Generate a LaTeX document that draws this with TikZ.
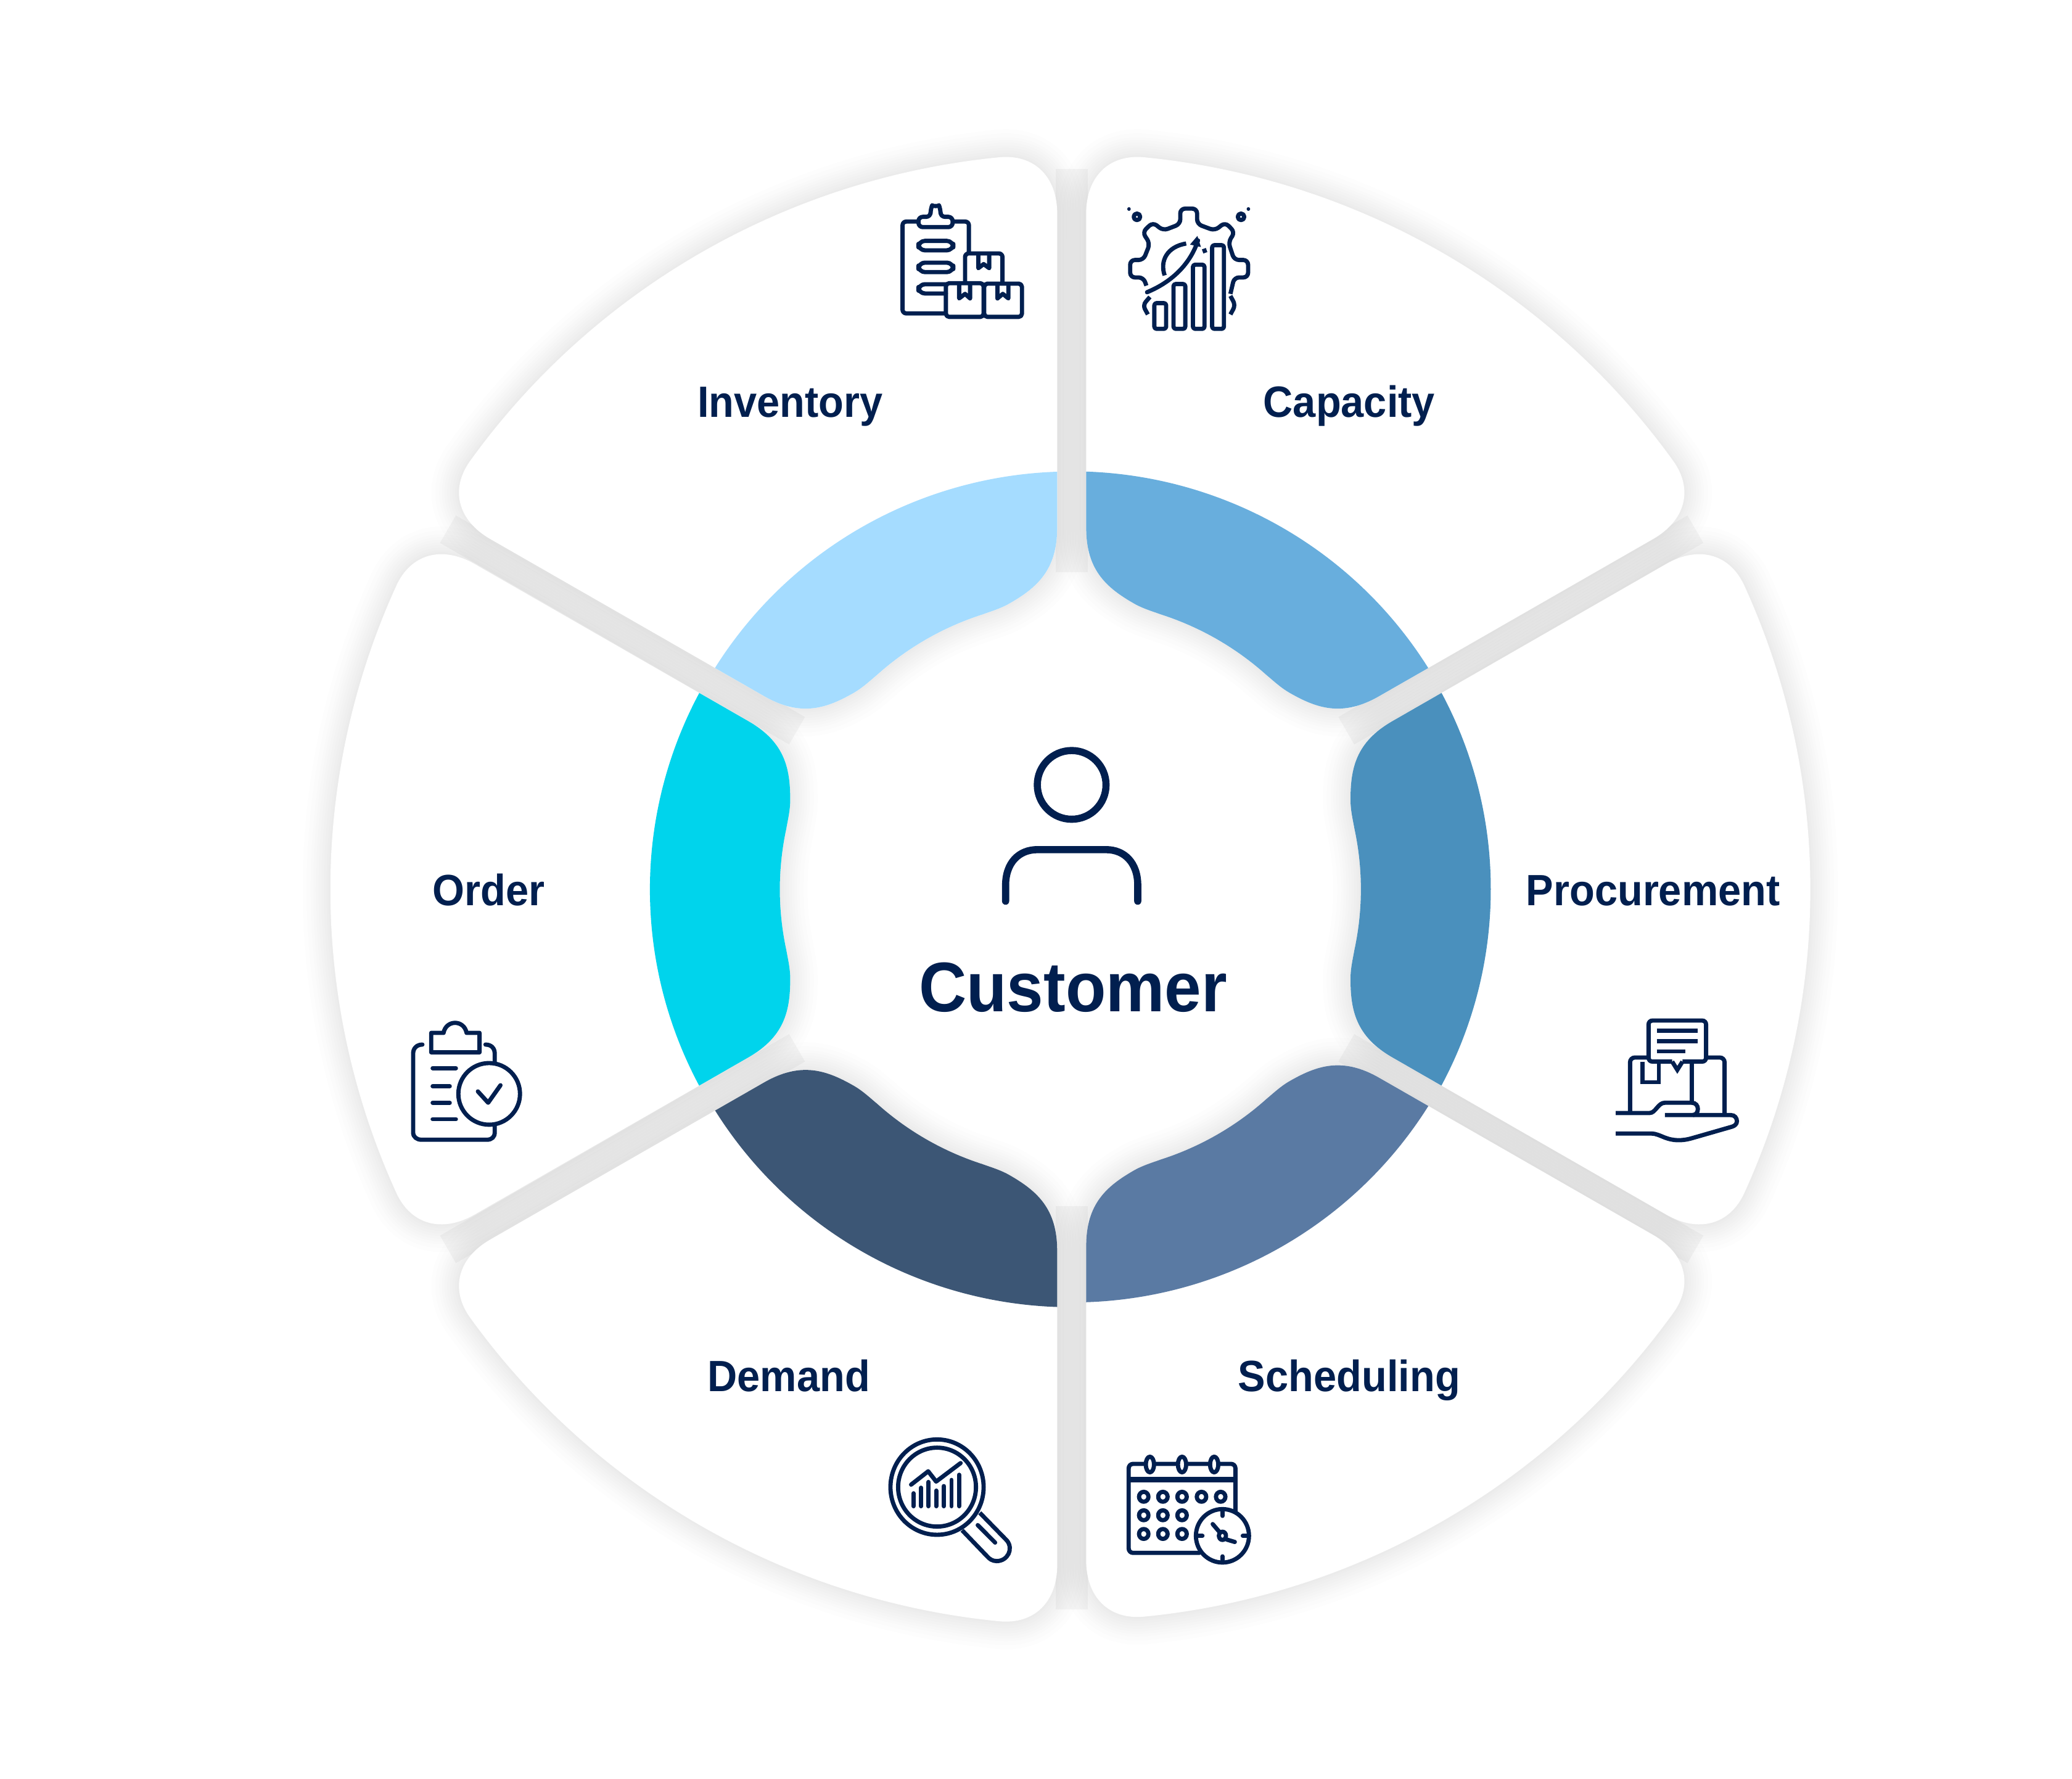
\documentclass[tikz,border=0pt]{standalone}
\usepackage{fontspec}
\setmainfont{Liberation Sans}[FakeStretch=0.94]
\definecolor{navy}{HTML}{011F4F}
\definecolor{cOrder}{HTML}{00D4EC}
\definecolor{cInv}{HTML}{A5DCFF}
\definecolor{cCap}{HTML}{68AEDD}
\definecolor{cProc}{HTML}{4A90BD}
\definecolor{cSched}{HTML}{5A7AA3}
\definecolor{cDem}{HTML}{3C5675}
\definecolor{gapgrey}{HTML}{F6F6F6}
\newcommand\fullsector{(-243.65,127.97) -- (-450.6,247.5) .. controls (-475.4,262) and (-499,255.3) .. (155.6:560)
 arc[start angle=155.6,end angle=204.4,radius=560]
 .. controls (-499,-255.3) and (-475.4,-262) .. (-450.6,-247.5) -- (-243.65,-127.97)
 .. controls (-216,-112) and (-212,-92) .. (-212,-68) .. controls (-212,-60) and (-214,-52) .. (-215,-46)
 arc[start angle=192.08,end angle=167.92,radius=220]
 .. controls (-214,52) and (-212,60) .. (-212,68) .. controls (-212,92) and (-216,112) .. (-243.65,127.97) -- cycle}
\newcommand\ringsector{(-280.9,149.5) -- (-243.65,127.97)
 .. controls (-216,112) and (-212,92) .. (-212,68) .. controls (-212,60) and (-214,52) .. (-215,46)
 arc[start angle=167.92,end angle=192.08,radius=220]
 .. controls (-214,-52) and (-212,-60) .. (-212,-68) .. controls (-212,-92) and (-216,-112) .. (-243.65,-127.97)
 -- (-280.9,-149.5) arc[start angle=208.02,end angle=151.98,radius=318] -- cycle}
\tikzset{
 sectorframe/.style n args={3}{shift={(#2,#3)},yscale=0.994,rotate=#1},
 zoomframe/.style n args={4}{shift={({#1/2.142857-811},{673-#2/2.142857})},x=0.01cm/#3,y=-0.01cm/#4},
 ico/.style={draw=navy,line width=1.95pt,line cap=round,line join=round},
 icobar/.style={draw=navy,line width=1.95pt,line cap=butt,line join=miter},
 lab/.style={text=navy,font=\bfseries\fontsize{20.2}{24}\selectfont,inner sep=0pt,anchor=base},
 gapband/.style={draw=gapgrey,line width=14.6pt,line cap=butt},
}
\newcommand\sectorshadow[3]{\begin{scope}[sectorframe={#1}{#2}{#3}]
 \foreach \w in {3,6,10,14,18,22,26,30,36,42}{\draw[black,opacity=0.007,line width=\w*0.6087pt,line join=round] \fullsector;}
 \end{scope}}
\newcommand\sectorbody[4]{\begin{scope}[sectorframe={#1}{#2}{#3}]
 \fill[white] \fullsector;
 \fill[#4] \ringsector;
 \end{scope}}
\begin{document}
\begin{tikzpicture}[x=0.0214286cm,y=0.0214286cm]
\useasboundingbox (-811,-672.87) rectangle (757,673);
\fill[white] (-811,-672.87) rectangle (757,673);
% pale band behind the gaps
\foreach \a in {30,90,150,210,270,330}{\draw[gapband] (\a:240) -- (\a:545);}
\sectorshadow{0}{-1}{0}
\sectorshadow{-60}{0}{0}
\sectorshadow{-120}{0}{0}
\sectorshadow{180}{-1}{0}
\sectorshadow{120}{0}{3.5}
\sectorshadow{60}{0}{0}
\sectorbody{0}{-1}{0}{cOrder}
\sectorbody{-60}{0}{0}{cInv}
\sectorbody{-120}{0}{0}{cCap}
\sectorbody{180}{-1}{0}{cProc}
\sectorbody{120}{0}{3.5}{cSched}
\sectorbody{60}{0}{0}{cDem}

% centre
\draw[navy,line width=3.3pt] (0,79) circle[radius=26];
\draw[navy,line width=3.3pt,line cap=round] (-50,-9) -- (-50,3) .. controls (-50,20) and (-40,30) .. (-26,30) -- (26,30) .. controls (40,30) and (50,20) .. (50,3) -- (50,-9);
\node[lab,font=\bfseries\fontsize{32.4}{38}\selectfont] (customer) at (1,-92.6) {Customer};
\node[lab] (inventory) at (-213,357.5) {Inventory};
\node[lab] (capacity) at (210,357.5) {Capacity};
\node[lab] (procurement) at (440,-12.2) {Procurement};
\node[lab] (scheduling) at (210,-380) {Scheduling};
\node[lab] (demand) at (-214,-380) {Demand};
\node[lab] (order) at (-441,-12.2) {Order};

% Inventory + Capacity icons
\begin{scope}[zoomframe={1400}{300}{2.0907}{3}]
 \draw[ico,rounded corners=1.7pt] (185,178) -- (133,178) -- (133,625) -- (280,625);
 \draw[ico,rounded corners=1.7pt] (305,178) -- (358,178) -- (358,330);
 \draw[ico,rounded corners=2pt] (228,155) -- (228,118) .. controls (232,104) and (258,104) .. (262,118) -- (262,155) -- (303,155) -- (303,205) -- (187,205) -- (187,155) -- cycle;
 \draw[ico,rounded corners=3pt] (187,272) rectangle (305,318);
 \draw[ico,rounded corners=3pt] (187,378) rectangle (305,424);
 \draw[ico,rounded corners=3pt] (280,483) -- (187,483) -- (187,528) -- (280,528);
 \draw[ico,rounded corners=1.7pt] (345,472) -- (345,333) -- (472,333) -- (472,472);
 \draw[ico] (390,338) -- (390,405) -- (408,385) -- (427,405) -- (427,338);
 \draw[ico,rounded corners=1.5pt] (280,478) rectangle (408,642);
 \draw[ico,rounded corners=1.5pt] (410,480) rectangle (538,642);
 \draw[ico] (325,485) -- (325,552) -- (345,530) -- (362,552) -- (362,485);
 \draw[ico] (455,485) -- (455,552) -- (473,530) -- (492,552) -- (492,485);
 % capacity
 \fill[navy] (901,117) circle[x radius=6,y radius=9];
 \fill[navy] (1306,117) circle[x radius=6,y radius=9];
 \draw[ico] (928,155) circle[x radius=11,y radius=16];
 \draw[ico] (1281,155) circle[x radius=11,y radius=16];
 \draw[ico,rounded corners=2.2pt,line cap=butt] (960,490) -- (950,450) -- (905,450) -- (905,365) -- (950,365) -- (972,285) -- (947,230) -- (982,182) -- (1017,222) -- (1075,190) -- (1075,115) -- (1132,115) -- (1132,190) -- (1192,222) -- (1227,182) -- (1260,230) -- (1238,278) -- (1258,365) -- (1305,365) -- (1305,450) -- (1258,450) -- (1245,530);
 \draw[ico,rounded corners=2pt,line cap=butt] (1245,540) -- (1262,585) -- (1245,630);
 \draw[ico,rounded corners=2pt,line cap=butt] (972,545) -- (948,585) -- (965,630);
 \draw[ico,rounded corners=1pt] (987,575) rectangle (1027,700);
 \draw[ico,rounded corners=1pt] (1052,482) rectangle (1092,700);
 \draw[ico,rounded corners=1pt] (1118,388) rectangle (1157,700);
 \draw[ico,rounded corners=1pt] (1183,293) rectangle (1223,700);
 \draw[ico] (962,522) .. controls (1050,470) and (1110,380) .. (1135,270);
 \fill[navy] (1133,248) -- (1108,290) -- (1145,302) -- cycle;
 \draw[ico,line cap=butt] (1022,440) .. controls (1005,370) and (1030,300) .. (1095,285);
 \draw[ico,line cap=butt] (1155,310) -- (1160,330);
\end{scope}

% Order icon
\begin{scope}[zoomframe={600}{1620}{3}{3}]
 \draw[ico] (255,222) .. controls (228,222) and (210,240) .. (210,265) -- (210,650) .. controls (210,672) and (228,685) .. (250,685) -- (570,685) .. controls (592,685) and (607,672) .. (607,650) -- (607,615);
 \draw[ico] (562,222) .. controls (590,222) and (607,240) .. (607,265) -- (607,310);
 \draw[ico] (298,165) -- (358,165) .. controls (370,100) and (458,100) .. (470,165) -- (533,165) -- (533,260) -- (298,260) -- cycle;
 \draw[ico] (305,337) -- (418,337);
 \draw[ico] (305,425) -- (388,425);
 \draw[ico] (305,505) -- (388,505);
 \draw[ico] (305,585) -- (418,585);
 \draw[ico] (580,462) circle[radius=150];
 \draw[ico] (525,450) -- (575,505) -- (635,420);
\end{scope}

% Procurement icon
\begin{scope}[zoomframe={2590}{1620}{3}{3}]
 \draw[icobar,rounded corners=2.2pt] (160,550) -- (160,285) -- (245,285);
 \draw[icobar,rounded corners=2.2pt] (530,285) -- (620,285) -- (620,555);
 \draw[icobar] (220,305) -- (220,405) -- (300,405) -- (300,305);
 \draw[icobar] (460,305) -- (460,505);
 \draw[icobar] (365,305) -- (390,345) -- (415,305);
 \draw[icobar] (365,305) -- (270,305) .. controls (258,305) and (250,297) .. (250,285) -- (250,125) .. controls (250,113) and (258,105) .. (270,105) -- (510,105) .. controls (522,105) and (530,113) .. (530,125) -- (530,285) .. controls (530,297) and (522,305) .. (510,305) -- (415,305);
 \draw[icobar] (290,155) -- (490,155);
 \draw[icobar] (290,205) -- (490,205);
 \draw[icobar] (290,255) -- (430,255);
 \draw[icobar] (90,555) -- (255,555) .. controls (285,555) and (295,505) .. (330,505) -- (460,505) .. controls (480,505) and (490,520) .. (490,535) .. controls (490,552) and (480,565) .. (465,565);
 \draw[icobar] (330,565) -- (650,565) .. controls (670,565) and (680,580) .. (680,595) .. controls (680,608) and (670,618) .. (655,622) -- (460,678) .. controls (410,692) and (370,690) .. (330,675) .. controls (305,665) and (285,655) .. (265,655) -- (90,655);
\end{scope}

% Demand + Scheduling icons
\begin{scope}[zoomframe={1400}{2300}{2.0907}{3}]
 \draw[ico] (250,335) circle[x radius=158,y radius=232];
 \draw[ico] (250,335) circle[x radius=132,y radius=192];
 \draw[ico,line cap=butt] (395,460) -- (487,595) .. controls (510,635) and (490,695) .. (452,695) .. controls (438,695) and (428,685) .. (420,672) -- (335,545);
 \draw[ico] (388,520) -- (447,605);
 \draw[ico] (162,323) -- (220,258) -- (247,308) -- (330,218);
 \foreach \bx/\by in {170/365,196/338,221/310,247/352,273/330,299/300,325/275}{\draw[ico] (\bx,\by) -- (\bx,428);}
 % scheduling
 \draw[ico,rounded corners=2pt] (1140,655) -- (900,655) -- (900,222) -- (1262,222) -- (1262,458);
 \draw[ico,line width=2.6pt,line cap=butt] (900,298) -- (1262,298);
 \foreach \rx in {972,1081,1190}{\draw[ico,fill=white] (\rx,225) circle[x radius=14,y radius=38];}
 \foreach \dx in {951,1016,1081,1147,1212}{\draw[ico] (\dx,382) circle[x radius=16,y radius=24];}
 \foreach \dx in {951,1016,1081}{\draw[ico] (\dx,472) circle[x radius=16,y radius=24]; \draw[ico] (\dx,563) circle[x radius=16,y radius=24];}
 \draw[ico,fill=white] (1218,572) circle[x radius=90,y radius=130];
 \draw[ico] (1218,455) -- (1218,475);
 \draw[ico] (1218,672) -- (1218,695);
 \draw[ico] (1130,572) -- (1150,572);
 \draw[ico] (1287,572) -- (1305,572);
 \draw[ico] (1185,515) -- (1207,552);
 \draw[ico] (1232,590) -- (1260,602);
 \draw[ico] (1218,572) circle[x radius=12,y radius=20];
\end{scope}
\end{tikzpicture}
\end{document}
